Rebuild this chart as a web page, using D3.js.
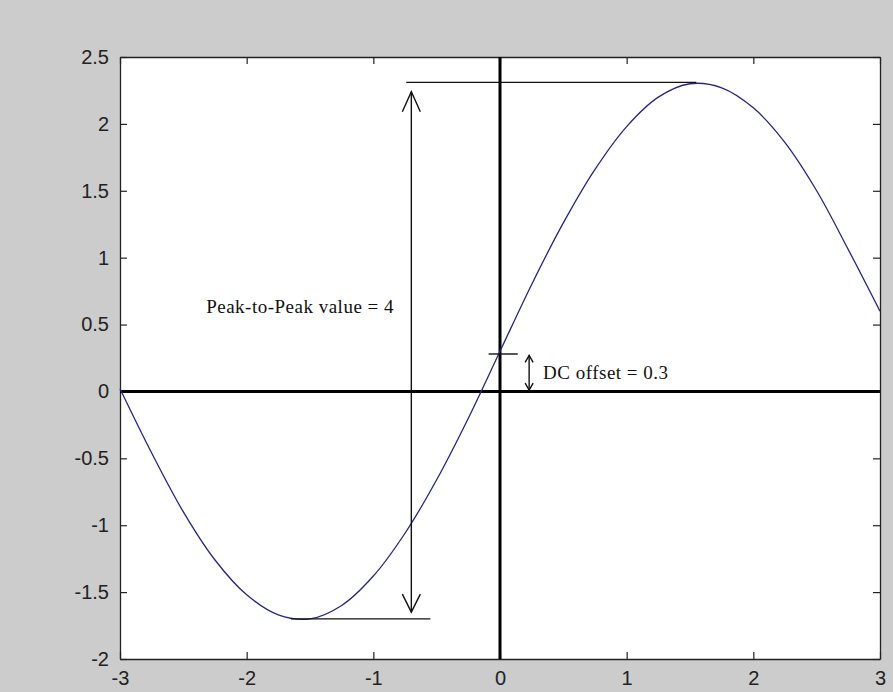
<!DOCTYPE html>
<html>
<head>
<meta charset="utf-8">
<script src="https://cdn.jsdelivr.net/npm/d3@7"></script>
<style>
  body { margin: 0; background: #cccccc; overflow: hidden; }
  svg { display: block; }
  .tick text { font-family: "Liberation Sans", Arial, sans-serif; font-size: 20px; fill: #222; }
  .note { font-family: "Liberation Serif", "Times New Roman", serif; font-size: 19px; letter-spacing: 0.5px; fill: #111; }
</style>
</head>
<body>
<svg width="893" height="692"></svg>
<script>
// values
const xs = [-3, -2.75, -2.5, -2.25, -2, -1.75, -1.5, -1.25, -1, -0.75, -0.5, -0.25,
            0, 0.25, 0.5, 0.75, 1, 1.25, 1.5, 1.75, 2, 2.25, 2.5, 2.75, 3];
const ys = [0.02, -0.46, -0.9, -1.26, -1.52, -1.67, -1.7, -1.6, -1.38, -1.06, -0.66, -0.2,
            0.3, 0.8, 1.26, 1.66, 1.98, 2.2, 2.3, 2.27, 2.12, 1.86, 1.5, 1.06, 0.6];
const xTicks = [-3, -2, -1, 0, 1, 2, 3];
const yTicks = [-2, -1.5, -1, -0.5, 0, 0.5, 1, 1.5, 2, 2.5];

const peakTop = 2.31, peakBottom = -1.7, peakX = -0.7;
const dcLevel = 0.28, dcX = 0.23;

const svg = d3.select('svg');
const margin = { top: 57, right: 13, bottom: 33, left: 120 };
const width = +svg.attr('width');
const height = +svg.attr('height');
const innerWidth = width - margin.left - margin.right;
const innerHeight = height - margin.top - margin.bottom;

const x = d3.scaleLinear().domain([-3, 3]).range([0, innerWidth]);
const y = d3.scaleLinear().domain([-2, 2.5]).range([innerHeight, 0]);

const g = svg.append('g').attr('transform', `translate(${margin.left},${margin.top})`);

g.append('rect')
    .attr('width', innerWidth)
    .attr('height', innerHeight)
    .attr('fill', '#fff');

// axes, ticks inside like matlab
const fmt = d => String(d);
const xAxis = g.append('g').attr('transform', `translate(0,${innerHeight})`)
    .call(d3.axisBottom(x).tickValues(xTicks).tickFormat(fmt).tickSizeInner(-7).tickSizeOuter(0));
const yAxis = g.append('g')
    .call(d3.axisLeft(y).tickValues(yTicks).tickFormat(fmt).tickSizeInner(-7).tickSizeOuter(0).tickPadding(11));
const xTop = g.append('g').call(d3.axisTop(x).tickValues(xTicks).tickFormat('').tickSizeInner(-7).tickSizeOuter(0));
const yRight = g.append('g').attr('transform', `translate(${innerWidth},0)`)
    .call(d3.axisRight(y).tickValues(yTicks).tickFormat('').tickSizeInner(-7).tickSizeOuter(0));

// mirror axes carry no labels
xTop.selectAll('.tick text').remove();
yRight.selectAll('.tick text').remove();

[xAxis, yAxis, xTop, yRight].forEach(a => {
    a.selectAll('.domain').attr('stroke', '#222').attr('stroke-width', 1.3);
    a.selectAll('.tick line').attr('stroke', '#222').attr('stroke-width', 1.2);
});
// x labels sit right at the bottom of the window
xAxis.selectAll('.tick text').attr('y', 26).attr('dy', null);

// thick zero lines
g.append('line')
    .attr('x1', 0).attr('x2', innerWidth)
    .attr('y1', y(0)).attr('y2', y(0))
    .attr('stroke', '#000').attr('stroke-width', 3);
g.append('line')
    .attr('x1', x(0)).attr('x2', x(0))
    .attr('y1', 0).attr('y2', innerHeight)
    .attr('stroke', '#000').attr('stroke-width', 3);

// the wave
const line = d3.line()
    .x((d, i) => x(xs[i]))
    .y(d => y(d))
    .curve(d3.curveCatmullRom);

g.append('path')
    .datum(ys)
    .attr('d', line)
    .attr('fill', 'none')
    .attr('stroke', '#262680')
    .attr('stroke-width', 1.3);

// annotations
const seg = (x1, y1, x2, y2, w) => g.append('line')
    .attr('x1', x(x1)).attr('y1', y(y1))
    .attr('x2', x(x2)).attr('y2', y(y2))
    .attr('stroke', '#111').attr('stroke-width', w || 1.4);

const head = (px, py, dir, len, half) => {
    const ax = x(px), ay = y(py);
    g.append('path')
        .attr('d', `M${ax - half},${ay + dir * len}L${ax},${ay}L${ax + half},${ay + dir * len}`)
        .attr('fill', 'none')
        .attr('stroke', '#111')
        .attr('stroke-width', 1.4);
};

seg(-0.74, peakTop, 1.55, peakTop);
seg(-1.65, peakBottom, -0.55, peakBottom);
seg(peakX, peakTop - 0.07, peakX, peakBottom + 0.05);
head(peakX, peakTop - 0.07, 1, 20, 9);
head(peakX, peakBottom + 0.05, -1, 18, 9);

seg(-0.09, dcLevel, 0.14, dcLevel);
seg(dcX, dcLevel - 0.01, dcX, 0.01);
head(dcX, dcLevel - 0.01, 1, 7, 4);
head(dcX, 0.01, -1, 7, 4);

g.append('text')
    .attr('class', 'note')
    .attr('x', x(-2.32))
    .attr('y', y(0.59))
    .text('Peak-to-Peak value = 4');

g.append('text')
    .attr('class', 'note')
    .attr('x', x(0.34))
    .attr('y', y(0.09))
    .text('DC offset = 0.3');
</script>
</body>
</html>
